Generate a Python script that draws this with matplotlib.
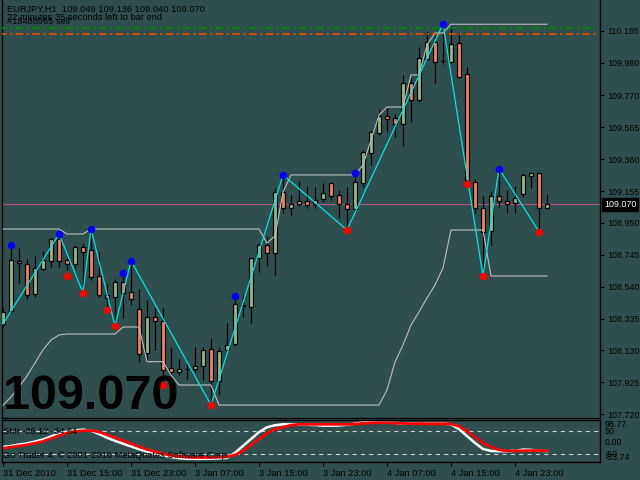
import numpy as np
import matplotlib
matplotlib.use('Agg')
import matplotlib.pyplot as plt
from matplotlib.transforms import blended_transform_factory, ScaledTranslation

plt.rcParams['font.family'] = ['Liberation Sans', 'DejaVu Sans']
plt.rcParams['lines.scale_dashes'] = False

# EURJPY H1 candles, bar 0 = 31 Dec 2010 07:00
opens = [108.300, 108.386, 108.707, 108.686, 108.493, 108.656, 108.707, 108.847, 108.711, 108.686,
         108.796, 108.776, 108.609, 108.487, 108.476, 108.571, 108.506, 108.395, 108.112, 108.343,
         108.322, 108.017, 107.990, 108.013, 108.009, 108.032, 108.140, 107.936, 108.134, 108.170,
         108.423, 108.412, 108.723, 108.808, 108.759, 109.151, 109.044, 109.070, 109.091, 109.072,
         109.102, 109.205, 109.128, 109.070, 109.038, 109.205, 109.398, 109.527, 109.640, 109.623,
         109.585, 109.848, 109.741, 110.005, 110.112, 109.992, 109.987, 110.106, 109.906, 109.212,
         109.044, 108.900, 109.124, 109.091, 109.077, 109.134, 109.254, 109.269, 109.049]
highs = [108.403, 108.789, 108.789, 108.718, 108.738, 108.770, 108.862, 108.866, 108.731, 108.808,
         108.823, 108.894, 108.763, 108.558, 108.590, 108.616, 108.691, 108.523, 108.455, 108.403,
         108.401, 108.146, 108.075, 108.048, 108.154, 108.154, 108.208, 108.154, 108.305, 108.455,
         108.487, 108.725, 108.819, 108.866, 109.173, 109.237, 109.130, 109.220, 109.188, 109.183,
         109.205, 109.215, 109.162, 109.183, 109.248, 109.419, 109.548, 109.681, 109.688, 109.649,
         109.902, 109.891, 110.084, 110.176, 110.159, 110.215, 110.205, 110.159, 109.955, 109.231,
         109.124, 109.156, 109.284, 109.162, 109.188, 109.269, 109.273, 109.273, 109.136]
lows = [108.281, 108.371, 108.564, 108.463, 108.476, 108.648, 108.669, 108.669, 108.648, 108.661,
        108.519, 108.583, 108.474, 108.410, 108.313, 108.339, 108.423, 108.058, 108.058, 108.134,
        107.934, 107.915, 107.972, 107.947, 107.994, 107.940, 107.801, 107.844, 108.127, 108.159,
        108.345, 108.309, 108.637, 108.673, 108.616, 109.014, 109.001, 109.059, 109.048, 109.044,
        109.087, 109.098, 108.980, 108.926, 109.021, 109.183, 109.323, 109.516, 109.537, 109.501,
        109.447, 109.601, 109.728, 109.998, 109.848, 109.971, 109.979, 109.882, 109.214, 109.016,
        108.628, 108.808, 109.055, 109.012, 109.016, 109.119, 109.177, 108.911, 109.040]
closes = [108.378, 108.712, 108.691, 108.489, 108.662, 108.712, 108.847, 108.707, 108.688, 108.796,
          108.765, 108.605, 108.489, 108.469, 108.571, 108.500, 108.459, 108.107, 108.343, 108.318,
          108.005, 107.992, 108.009, 108.009, 108.030, 108.134, 107.936, 108.127, 108.163, 108.429,
          108.418, 108.723, 108.808, 108.759, 109.151, 109.044, 109.072, 109.091, 109.064, 109.098,
          109.141, 109.124, 109.070, 109.038, 109.212, 109.405, 109.533, 109.640, 109.621, 109.585,
          109.848, 109.741, 110.009, 110.112, 109.987, 109.990, 110.099, 109.891, 109.226, 109.044,
          108.894, 109.124, 109.093, 109.070, 109.109, 109.259, 109.269, 109.044, 109.070]

# channel lines (gray)
upper = [108.911, 108.911, 108.911, 108.911, 108.911, 108.911, 108.911, 108.911, 108.879, 108.879,
         108.879, 108.911, 108.911, 108.911, 108.911, 108.911, 108.911, 108.911, 108.911, 108.911,
         108.911, 108.911, 108.911, 108.911, 108.911, 108.911, 108.911, 108.911, 108.911, 108.911,
         108.911, 108.911, 108.911, 108.821, 108.866, 109.149, 109.259, 109.259, 109.259, 109.259,
         109.259, 109.259, 109.259, 109.259, 109.259, 109.323, 109.484, 109.644, 109.696, 109.696,
         109.696, 109.902, 109.902, 110.095, 110.172, 110.172, 110.228, 110.228, 110.228, 110.228,
         110.228, 110.228, 110.228, 110.228, 110.228, 110.228, 110.228, 110.228, 110.228]
lower = [107.779, 107.831, 107.895, 107.966, 108.050, 108.134, 108.197, 108.230, 108.236, 108.236,
         108.236, 108.236, 108.236, 108.236, 108.236, 108.281, 108.281, 108.281, 108.058, 108.058,
         108.058, 107.972, 107.908, 107.908, 107.908, 107.908, 107.908, 107.779, 107.779, 107.779,
         107.779, 107.779, 107.779, 107.779, 107.779, 107.779, 107.779, 107.779, 107.779, 107.779,
         107.779, 107.779, 107.779, 107.779, 107.779, 107.779, 107.779, 107.779, 107.876, 108.056,
         108.165, 108.294, 108.378, 108.468, 108.551, 108.661, 108.905, 108.905, 108.905, 108.905,
         108.905, 108.609, 108.609, 108.609, 108.609, 108.609, 108.609, 108.609, 108.609]

# zigzag + swing dots
zz_bars = [0, 7, 10, 11, 14, 16, 26, 35, 43, 55, 60, 62, 67]
zz_prices = [108.300, 108.879, 108.502, 108.911, 108.288, 108.707, 107.779, 109.259, 108.905,
             110.230, 108.609, 109.299, 108.894]
blue_bars = [1, 7, 11, 15, 16, 29, 35, 44, 55, 62]
blue_prices = [108.808, 108.879, 108.911, 108.630, 108.707, 108.482, 109.259, 109.273, 110.230, 109.299]
red_bars = [8, 10, 13, 14, 20, 26, 43, 58, 60, 67]
red_prices = [108.609, 108.502, 108.390, 108.288, 107.908, 107.779, 108.905, 109.201, 108.609, 108.894]

green_level = 110.202
orange_level = 110.164
bid = 109.070

price_ticks = [110.185, 109.980, 109.770, 109.565, 109.360, 109.155, 108.950, 108.745,
               108.540, 108.335, 108.130, 107.925, 107.720]

# SMI indicator
smi_main = [-18, -14, -8, -3, 5, 14, 27, 40, 48, 54,
            57, 52, 38, 22, 8, -4, -16, -28, -38, -47,
            -55, -62, -67, -70, -70, -70, -69, -68, -66, -44,
            -14, 16, 46, 67, 76, 80, 80, 79, 78, 77,
            74, 74, 75, 78, 83, 88, 90, 90, 89, 86,
            84, 84, 83, 83, 83, 83, 80, 59, 29, -1,
            -27, -36, -37, -37, -35, -30, -31, -35, -36.12]
smi_signal = [-24, -19, -14, -9, -2, 6, 18, 31, 42, 49,
              52, 53, 47, 35, 22, 9, -4, -17, -29, -39,
              -48, -55, -60, -63, -64, -64, -64, -63, -61, -53,
              -36, -10, 16, 42, 59, 67, 76, 80, 80, 80,
              80, 80, 80, 80, 81, 84, 86, 87, 87, 85,
              84, 83, 83, 82, 82, 82, 81, 72, 50, 24,
              -1, -18, -31, -36, -35, -35, -34, -34, -34.64]

time_ticks = [0, 8, 16, 24, 32, 40, 48, 56, 64]
time_labels = ['31 Dec 2010', '31 Dec 15:00', '31 Dec 23:00', '3 Jan 07:00', '3 Jan 15:00',
               '3 Jan 23:00', '4 Jan 07:00', '4 Jan 15:00', '4 Jan 23:00']

BG = '#2f4f4f'
FS = 6.4
fig = plt.figure(figsize=(6.4, 4.8), dpi=100, facecolor=BG)
W, H = 640.0, 480.0
ax = fig.add_axes([2 / W, 1 - 417.5 / H, 598 / W, 417.5 / H], facecolor=BG)
ax2 = fig.add_axes([2 / W, 1 - 462 / H, 598 / W, 42 / H], facecolor=BG)

x = np.arange(len(opens))
o = np.array(opens); h = np.array(highs); l = np.array(lows); c = np.array(closes)
up = c >= o
body_col = np.where(up, '#8fbc8f', '#fa8060')

ax.axhline(bid, color='#b85080', lw=0.8, zorder=1)
ax.vlines(x, l, h, color='black', lw=0.9, zorder=2)
ax.bar(x, np.maximum(np.abs(c - o), 0.002), bottom=np.minimum(o, c), width=0.62,
       color=body_col, edgecolor='black', linewidth=0.9, zorder=3)

ax.plot(x, upper, color='#c0c0c0', lw=0.8, zorder=4)
ax.plot(x, lower, color='#c0c0c0', lw=0.8, zorder=4)
ax.plot(zz_bars, zz_prices, color='#00e8e8', lw=0.9, zorder=5)
ax.scatter(blue_bars, blue_prices, s=30, color='#0000ff', zorder=6, linewidths=0)
ax.scatter(red_bars, red_prices, s=30, color='#ff0000', zorder=6, linewidths=0)

ax.plot([-1, 74.2], [green_level, green_level], color='#008c00', lw=1.2,
        linestyle=(0, (5.5, 2.5, 1.5, 2.5)), zorder=4)
ax.plot([-1, 74.2], [orange_level, orange_level], color='#ff4500', lw=1.2,
        linestyle=(0, (5.5, 2.5, 1.5, 2.5)), zorder=4)

ax.set_xlim(-0.125, 74.625)
ax.set_ylim(107.699, 110.384)
ax.set_xticks([])
ax.yaxis.tick_right()
ax.set_yticks(price_ticks)
ax.set_yticklabels(['%.3f' % p for p in price_ticks])
ax.tick_params(axis='y', direction='out', length=3, width=0.8, colors='black',
               labelsize=FS, pad=2)
for s in ['left', 'right', 'bottom']:
    ax.spines[s].set_color('black')
    ax.spines[s].set_linewidth(1)
ax.spines['top'].set_visible(False)

tr = blended_transform_factory(ax.transAxes, ax.transData)
ax.text(1.0 + 4 / 598, bid, '%.3f' % bid, transform=tr, ha='left', va='center',
        fontsize=FS, color='white',
        bbox=dict(boxstyle='square,pad=0.2', fc='black', ec='black'))

ax.text(4 / 598, 107.755, '109.070', fontsize=35, fontweight='bold', color='black',
        ha='left', va='baseline', zorder=7)

fig.text(7 / W, 1 - 9.5 / H, 'EURJPY,H1  109.049 109.136 109.040 109.070', fontsize=FS + 0.3,
         color='black', va='center')
fig.text(7 / W, 1 - 21 / H, '#18488965 sell', fontsize=FS + 0.3, color='black', va='center')
fig.text(7 / W, 1 - 18 / H, '22 minutes 35 seconds left to bar end', fontsize=FS + 0.3,
         color='black', va='center')

# SMI panel
ax2.axhline(50, color='#d0d0d0', lw=0.8, linestyle=(0, (3, 3)))
ax2.axhline(-50, color='#d0d0d0', lw=0.8, linestyle=(0, (3, 3)))
ax2.plot(x, smi_main, color='white', lw=1.8)
ax2.plot(x, smi_signal, color='#ff0000', lw=2.0)
ax2.set_xlim(-0.125, 74.625)
ax2.set_ylim(-83.74, 98.77)
ax2.set_yticks([])
ax2.set_xticks(time_ticks)
ax2.set_xticklabels(time_labels, ha='left', fontsize=FS + 0.3, color='black')
off = ScaledTranslation(1.5 / 72, 0, fig.dpi_scale_trans)
for lab in ax2.get_xticklabels():
    lab.set_transform(lab.get_transform() + off)
ax2.tick_params(axis='x', direction='out', length=3, width=0.8, colors='black', pad=2)
for s in ax2.spines.values():
    s.set_color('black')
    s.set_linewidth(1)

tr2 = blended_transform_factory(ax2.transAxes, ax2.transData)
for val, txt, va in [(98.77, '98.77', 'top'), (50, '50', 'center'), (0, '0.00', 'center'),
                     (-50, '-50', 'center'), (-83.74, '-83.74', 'bottom')]:
    ax2.text(1.0 + 5 / 598, val, txt, transform=tr2, ha='left', va=va, fontsize=FS,
             color='black', clip_on=False)

ax2.text(4 / 598, 50, 'SMI -36.12 -34.64', fontsize=FS + 0.3, color='black', va='center')
ax2.text(4 / 598, -55, 'Go Trader 4, \u00a9 2001-2010 MetaQuotes Software Corp.', fontsize=FS + 0.3,
         color='black', va='center')

fig.savefig('out.png', dpi=100, facecolor=BG)
